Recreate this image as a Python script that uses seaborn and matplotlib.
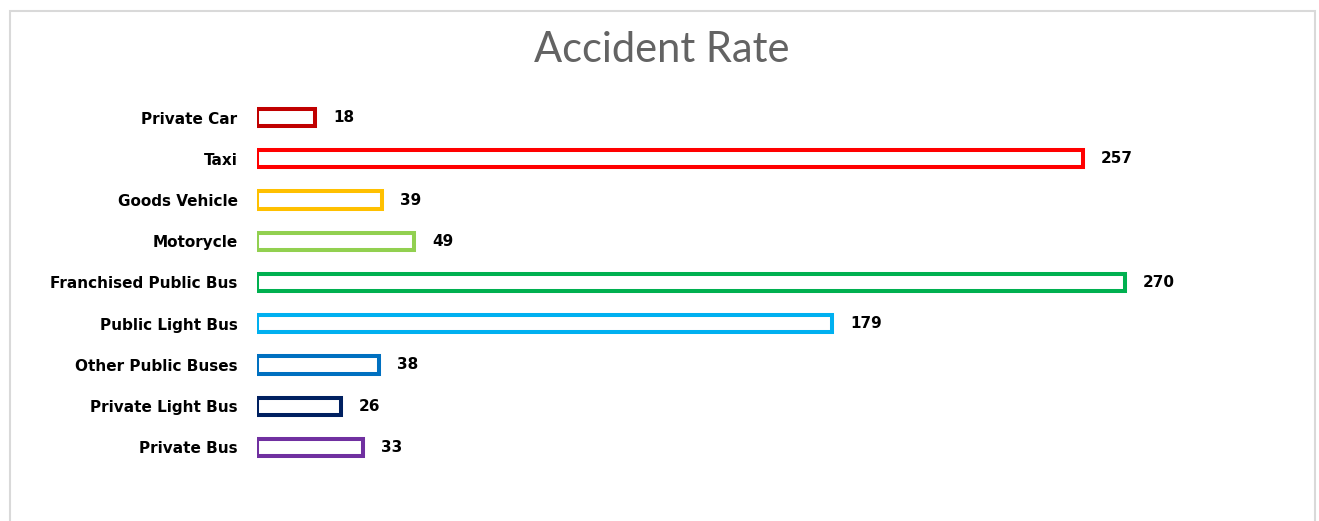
import matplotlib.pyplot as plt
from matplotlib.patches import Rectangle
import seaborn as sns
import pandas as pd

categories = ["Private Car", "Taxi", "Goods Vehicle", "Motorycle",
              "Franchised Public Bus", "Public Light Bus", "Other Public Buses",
              "Private Light Bus", "Private Bus"]
rates = [18, 257, 39, 49, 270, 179, 38, 26, 33]
colors = ["#C00000", "#FF0000", "#FFC000", "#92D050", "#00B050",
          "#00B0F0", "#0070C0", "#002060", "#7030A0"]

df = pd.DataFrame({"vehicle": categories, "rate": rates})

sns.set_style("white")
plt.rcParams['font.family'] = ['DejaVu Sans']

W, H = 1319, 521
fig = plt.figure(figsize=(W / 100, H / 100), dpi=100)
ax = fig.add_axes([257 / W, 1 - 468 / H, 964 / W, 371 / H])

sns.barplot(data=df, y="vehicle", x="rate", hue="vehicle", palette=colors,
            legend=False, width=0.42, ax=ax, orient="h")

# outline-only bars
for patch, c in zip(ax.patches, colors):
    patch.set_facecolor("white")
    patch.set_edgecolor(c)
    patch.set_linewidth(2.9)

for i, v in enumerate(rates):
    ax.annotate(str(v), (v, i), xytext=(13, 0), textcoords="offset points",
                va="center", ha="left", fontsize=11, fontweight="bold",
                color="black")

ax.set_xlim(0, 300)
ax.set_ylim(8.5, -0.5)
ax.set_xlabel("")
ax.set_ylabel("")
ax.set_xticks([])
ax.tick_params(axis="y", length=0, pad=14)
for lbl in ax.get_yticklabels():
    lbl.set_fontsize(11)
    lbl.set_fontweight("bold")
    lbl.set_color("black")
sns.despine(ax=ax, left=True, bottom=True)

fig.text(0.502, 1 - 50 / H, "Accident Rate", ha="center", va="center",
         fontsize=30, color="#636363", fontweight="normal",
         family=["Lato", "DejaVu Sans"])

fig.patches.append(Rectangle((10 / W, -0.05), 1305 / W, 1.05 - 11 / H,
                             transform=fig.transFigure, fill=False,
                             edgecolor="#D9D9D9", linewidth=1.5))

fig.savefig("out.png", dpi=100)
